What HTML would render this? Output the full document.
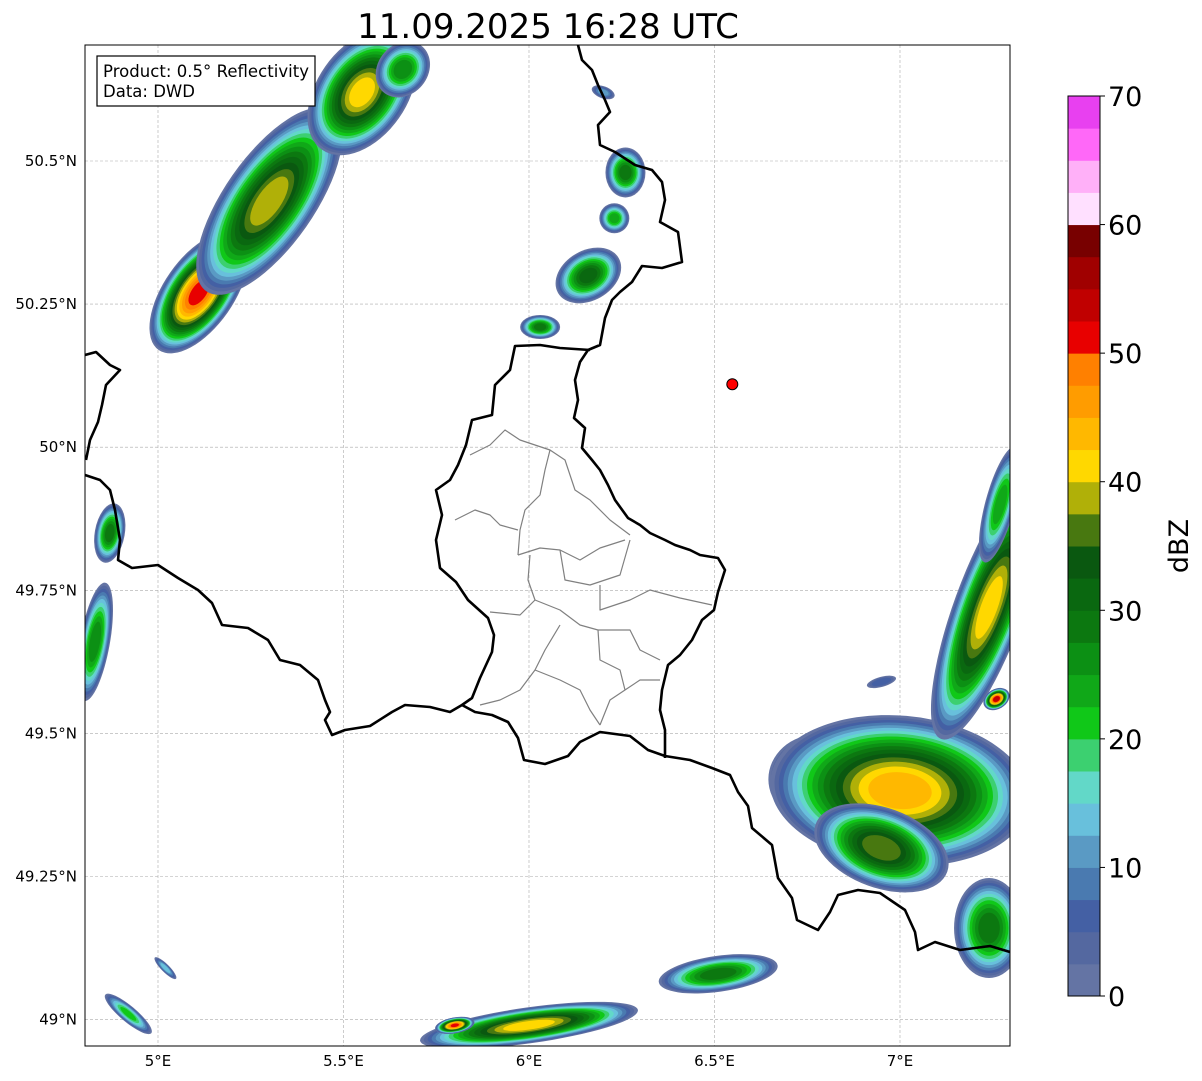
<!DOCTYPE html>
<html><head><meta charset="utf-8">
<style>
html,body{margin:0;padding:0;background:#fff;}
svg{display:block;font-family:"DejaVu Sans","Liberation Sans",sans-serif;}
</style></head>
<body>
<svg id="chart" width="1202" height="1081" viewBox="0 0 1202 1081">
  <defs>
    <clipPath id="mapclip"><rect x="85" y="45" width="925" height="1001"/></clipPath>
  </defs>
  <text x="548" y="38" font-size="34" text-anchor="middle">11.09.2025 16:28 UTC</text>
  <rect x="85" y="45" width="925" height="1001" fill="#fff"/>
  <g id="grid"></g>
  <g id="echoes" clip-path="url(#mapclip)"></g>
  <g clip-path="url(#mapclip)" fill="none" stroke-linejoin="round">
    <path stroke="#808080" stroke-width="1.2" d="M470,455 L490,445 L505,430 L520,440 L535,445 L550,450 L545,470 L540,495 L525,510 L520,530 L518,555 M550,450 L565,460 L575,490 L590,500 L610,520 L630,535 M455,520 L475,510 L490,515 L500,525 L518,530 M518,555 L540,548 L560,550 L580,560 L600,548 L625,540 M530,555 L528,580 L535,600 L520,615 L490,612 M560,550 L565,580 L590,585 L620,575 L630,540 M600,585 L600,610 L630,600 L650,590 L680,598 L712,605 M535,600 L560,610 L580,625 L598,630 L630,630 L640,650 L660,660 M560,625 L545,650 L535,670 L520,690 L500,700 L480,705 M598,630 L600,660 L620,670 L625,690 L610,700 L600,725 M535,670 L560,680 L580,690 L590,710 L600,725 M625,690 L640,680 L660,680"/>
    <path stroke="#000" stroke-width="2.6" d="M578,45 L582,60 L592,70 L598,85 L605,100 L610,112 L598,125 L600,145 L615,152 L635,165 L652,170 L662,182 L665,200 L660,222 L678,232 L682,262 L662,268 L642,266 L632,282 L620,292 L612,300 L605,318 L600,345 L588,350 L580,362 L575,380 L578,400 L574,418 L585,428 L582,448 L592,460 L600,470 L608,485 L615,500 L628,518 L640,525 L650,533 L665,540 L675,545 L690,550 L700,555 L718,558 L725,570 L718,592 L714,610 L702,620 L692,640 L680,655 L668,665 L662,690 L660,710 L665,730 L665,758 M85,475 L100,480 L110,490 L115,510 L120,540 L118,560 L132,568 L158,565 L178,578 L198,590 L212,603 L222,625 L248,628 L268,640 L280,660 L300,665 L318,680 L325,700 L330,712 L325,720 L332,735 L345,730 L370,726 L392,712 L405,705 L430,707 L450,712 L462,705 M85,355 L96,352 L110,365 L120,370 L106,385 L102,405 L98,422 L90,440 L86,460 M590,350 L560,348 L540,345 L515,346 L510,370 L495,385 L492,415 L472,420 L466,445 L458,465 L450,480 L436,490 L442,515 L436,540 L440,568 L456,582 L468,600 L488,618 L494,635 L492,652 L480,678 L472,698 L462,705 L475,712 L492,715 L508,722 L518,738 L524,760 L545,764 L568,756 L580,742 L600,732 L630,736 L648,750 L665,756 L690,760 L712,768 L730,775 L738,792 L748,806 L752,828 L772,845 L778,878 L792,898 L797,920 L818,930 L830,912 L838,895 L858,890 L880,893 L905,910 L915,932 L918,950 L935,942 L960,950 L990,946 L1010,952"/>
  </g>
  <circle id="site" r="5.5" fill="#f00" stroke="#000" stroke-width="1"/>
  <rect x="85" y="45" width="925" height="1001" fill="none" stroke="#000" stroke-width="1"/>
  <g id="axes"></g>
  <g>
    <rect x="97" y="56" width="218" height="50" fill="#fff" stroke="#000" stroke-width="1.2"/>
    <text x="103" y="77" font-size="16.5" textLength="206">Product: 0.5° Reflectivity</text>
    <text x="103" y="97" font-size="16.5">Data: DWD</text>
  </g>
  <g id="colorbar"></g>
  <text transform="translate(1188,546) rotate(-90)" font-size="27" text-anchor="middle">dBZ</text>
</svg>
<script>
const NS = "http://www.w3.org/2000/svg";
// Colour scale (2.5 dBZ bins, 0..70)
const binColors = ["#6474a4","#5468a0","#4460a4","#4a7ab0","#5a9ac4","#68c0dc","#62d8c8","#3cd070","#10c818","#10a818","#0c9014","#0c7810","#0a6810","#0a5810","#487810","#b0b008","#ffd800","#ffb800","#ff9c00","#ff8000","#e80000","#c00000","#a00000","#780000","#ffe0ff","#ffb0f8","#ff68f8","#e840f0"];
const cbTicks = [0,10,20,30,40,50,60,70];
const lonTicks = [5,5.5,6,6.5,7];
const lonLabels = ["5°E","5.5°E","6°E","6.5°E","7°E"];
const latTicks = [49,49.25,49.5,49.75,50,50.25,50.5];
const latLabels = ["49°N","49.25°N","49.5°N","49.75°N","50°N","50.25°N","50.5°N"];
// Echo cells: centre lon/lat, size (px), rotation, peak dBZ
const echoLon  = [5.11,5.30,5.55,5.66,6.26,6.16,6.03,6.23,4.87,4.83,6.78,7.00,7.24,7.26,7.24,6.00,5.80,6.51,4.92,5.02,6.95,6.20,7.27,6.95];
const echoLat  = [50.27,50.43,50.62,50.66,50.48,50.30,50.21,50.40,49.85,49.66,49.42,49.40,49.72,49.56,49.16,48.99,48.99,49.08,49.01,49.09,49.59,50.62,49.90,49.30];
const echoRx   = [70,110,70,30,20,35,20,15,15,15,50,130,35,14,35,110,20,60,30,15,15,12,15,70];
const echoRy   = [35,45,45,25,25,25,12,15,30,60,45,75,140,10,50,18,8,18,8,4,5,6,60,40];
const echoRot  = [-55,-55,-55,-50,0,-30,0,0,10,10,0,5,20,-30,0,-8,-10,-8,40,45,-15,20,15,20];
const echoPeak = [52,40,42,28,30,32,30,25,30,28,28,45,42,55,30,42,52,30,22,15,8,12,25,38];
const siteLon = 6.548, siteLat = 50.11;

const xOf = lon => 158 + (lon - 5) * 371;
const yOf = lat => 161 + (50.5 - lat) * 572.4;
const cbY = v => 996 - v * (900 / 70);
const colorFor = v => binColors[Math.min(binColors.length - 1, Math.max(0, Math.floor(v / 2.5)))];

const grid = document.getElementById('grid');
lonTicks.forEach(t => {
  const l = document.createElementNS(NS, 'line');
  
  
  l.setAttribute('x1', xOf(t)); l.setAttribute('x2', xOf(t));
  l.setAttribute('y1', 45); l.setAttribute('y2', 1046);
  l.setAttribute('stroke', '#aaa'); l.setAttribute('stroke-width', '0.6'); l.setAttribute('stroke-dasharray', '3,2');
  grid.appendChild(l);
});
latTicks.forEach(t => {
  const l = document.createElementNS(NS, 'line');
  
  
  l.setAttribute('x1', 85); l.setAttribute('x2', 1010);
  l.setAttribute('y1', yOf(t)); l.setAttribute('y2', yOf(t));
  l.setAttribute('stroke', '#aaa'); l.setAttribute('stroke-width', '0.6'); l.setAttribute('stroke-dasharray', '3,2');
  grid.appendChild(l);
});

const echoes = document.getElementById('echoes');
echoLon.forEach((lon, i) => {
  const cx = xOf(lon), cy = yOf(echoLat[i]);
  const peak = echoPeak[i];
  const g = document.createElementNS(NS, 'g');
  
  
  g.setAttribute('transform', `translate(${cx},${cy}) rotate(${echoRot[i]})`);
  for (let v = 1; v <= peak; v += 2.5) {
    const s = Math.pow(1 - (v - 1) / (peak + 2), 0.6);
    const e = document.createElementNS(NS, 'ellipse');
    
    
    e.setAttribute('cx', 0); e.setAttribute('cy', 0);
    e.setAttribute('rx', echoRx[i] * s); e.setAttribute('ry', echoRy[i] * s);
    e.setAttribute('fill', colorFor(v));
    g.appendChild(e);
  }
  echoes.appendChild(g);
});

const site = document.getElementById('site');
site.setAttribute('cx', xOf(siteLon)); site.setAttribute('cy', yOf(siteLat));

const axes = document.getElementById('axes');
lonTicks.forEach((t, i) => {
  const tx = document.createElementNS(NS, 'text');
  
  
  tx.setAttribute('x', xOf(t)); tx.setAttribute('y', 1066);
  tx.setAttribute('font-size', '15'); tx.setAttribute('text-anchor', 'middle');
  tx.textContent = lonLabels[i];
  axes.appendChild(tx);
});
latTicks.forEach((t, i) => {
  const tx = document.createElementNS(NS, 'text');
  
  
  tx.setAttribute('x', 77); tx.setAttribute('y', yOf(t) + 5);
  tx.setAttribute('font-size', '15'); tx.setAttribute('text-anchor', 'end');
  tx.textContent = latLabels[i];
  axes.appendChild(tx);
});

const cb = document.getElementById('colorbar');
binColors.forEach((c, i) => {
  const r = document.createElementNS(NS, 'rect');
  
  
  const y0 = cbY(i * 2.5), y1 = cbY(Math.min(70, (i + 1) * 2.5));
  r.setAttribute('x', 1068); r.setAttribute('width', 32);
  r.setAttribute('y', y1); r.setAttribute('height', Math.max(0, y0 - y1) + 0.5);
  r.setAttribute('fill', c);
  cb.appendChild(r);
});
const frame = document.createElementNS(NS, 'rect');


frame.setAttribute('x', 1068); frame.setAttribute('y', 96); frame.setAttribute('width', 32); frame.setAttribute('height', 900);
frame.setAttribute('fill', 'none'); frame.setAttribute('stroke', '#000'); frame.setAttribute('stroke-width', '1');
cb.appendChild(frame);
cbTicks.forEach(t => {
  const l = document.createElementNS(NS, 'line');
  
  
  l.setAttribute('x1', 1100); l.setAttribute('x2', 1105); l.setAttribute('y1', cbY(t)); l.setAttribute('y2', cbY(t));
  l.setAttribute('stroke', '#000');
  cb.appendChild(l);
  const tx = document.createElementNS(NS, 'text');
  
  
  tx.setAttribute('x', 1108); tx.setAttribute('y', cbY(t) + 10);
  tx.setAttribute('font-size', '27');
  tx.textContent = t;
  cb.appendChild(tx);
});
</script>
</body></html>
